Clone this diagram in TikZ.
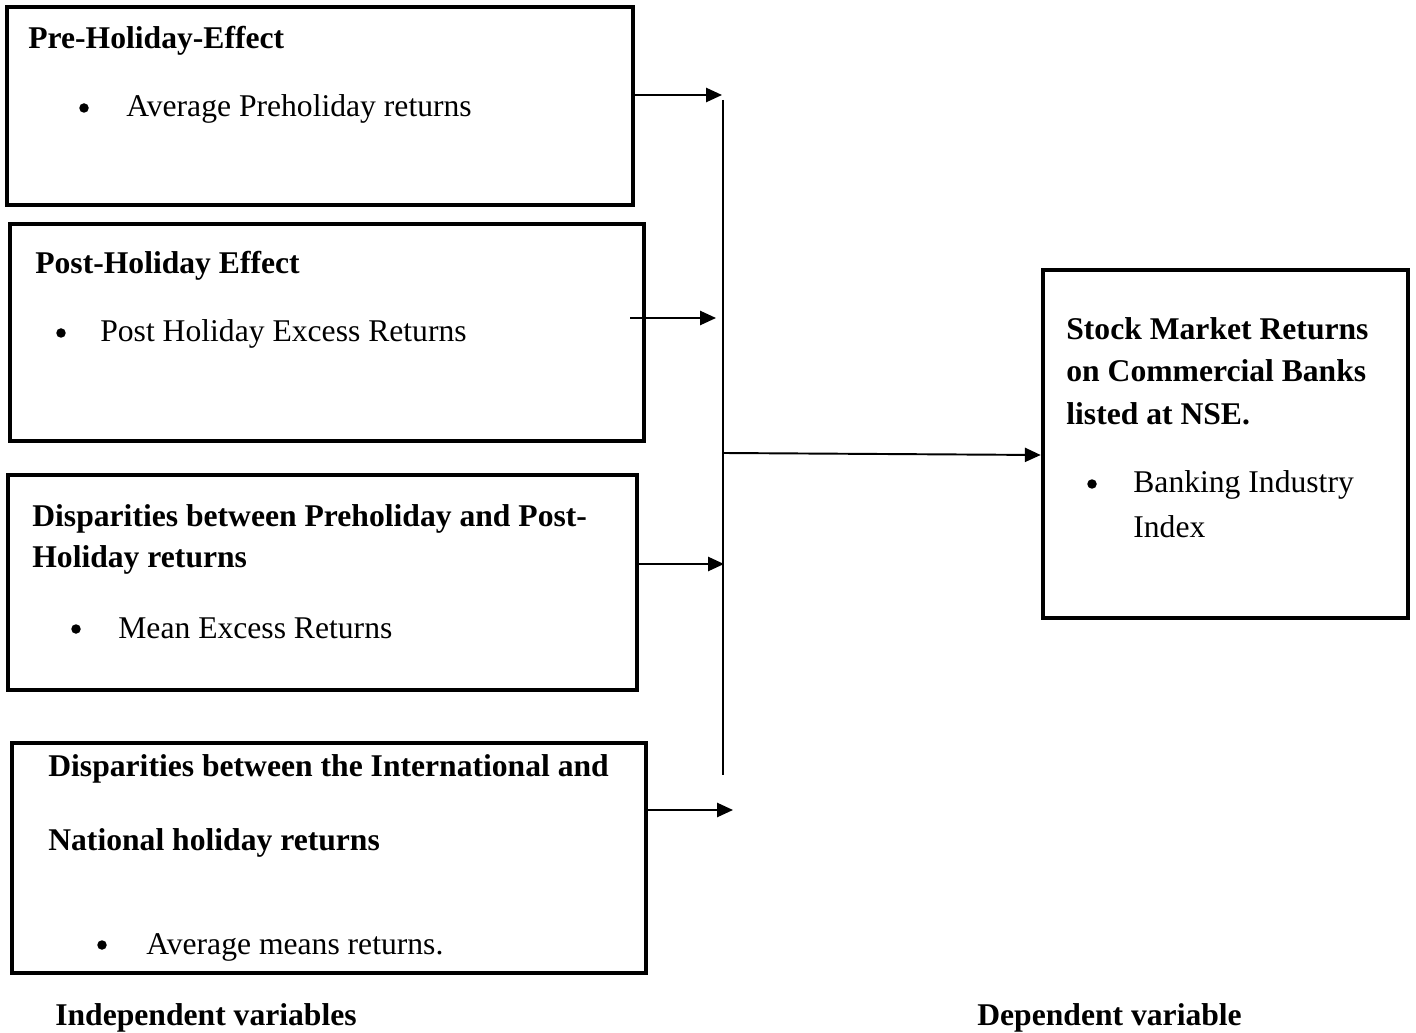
\documentclass[tikz,border=0pt]{standalone}
\usepackage{fontspec}
\setmainfont{Liberation Serif}
\usetikzlibrary{arrows.meta,fit}

\tikzset{
  box/.style={draw, line width=2.6pt, inner sep=0pt},
  txt/.style={anchor=base west, inner sep=0pt},
  head/.style={txt, font=\fontsize{18pt}{21pt}\selectfont\bfseries},
  dot/.style={circle, fill, inner sep=0pt, minimum size=0.19cm},
  link/.style={line width=1.1pt, -{Triangle[length=9pt,width=8pt]}},
}

\begin{document}
\begin{tikzpicture}[x=0.02cm, y=-0.02cm, font=\fontsize{18pt}{21pt}\selectfont]
\useasboundingbox (0,0) rectangle (1416,1033);

% independent variables
\node[box, fit={(7,7) (633,205)}] (pre) {};
\node[box, fit={(10,224) (644,441)}] (post) {};
\node[box, fit={(8,475) (637,690)}] (disp) {};
\node[box, fit={(12,743) (646,973)}] (intl) {};
% dependent variable
\node[box, fit={(1043,270) (1408,618)}] (stock) {};

\node[head] (h1) at (28,49) {Pre-Holiday-Effect};
\node[head] (h2) at (35,274) {Post-Holiday Effect};
\node[head] (h3a) at (32,526) {Disparities between Preholiday and Post-};
\node[head] (h3b) at (32,567) {Holiday returns};
\node[head] (h4a) at (48,776) {Disparities between the International and};
\node[head] (h4b) at (48,850) {National holiday returns};
\node[head] (h5a) at (1066,340) {Stock Market Returns};
\node[head] (h5b) at (1066,382) {on Commercial Banks};
\node[head] (h5c) at (1066,425) {listed at NSE.};

\foreach \n/\bx/\tx/\y/\t in {a/84/126/117/Average Preholiday returns,
    b/61/100/342/Post Holiday Excess Returns,
    c/76/118/638/Mean Excess Returns,
    d/102/146/954/Average means returns.,
    e/1092/1133/493/Banking Industry} {
  \node[dot] (dot\n) at (\bx,\y-9) {};
  \node[txt] (item\n) at (\tx,\y) {\t};
}
\node[txt] (iteme2) at (1133,537) {Index};

\node[head] (ind) at (55,1025) {Independent variables};
\node[head] (dep) at (977,1025) {Dependent variable};

% bus line
\coordinate (top) at (723,100);
\coordinate (bot) at (723,775);
\draw[line width=1.1pt] (top) -- (bot);

\coordinate (t1) at (722,95);
\coordinate (t2) at (716,318);
\coordinate (t3) at (724,564);
\coordinate (t4) at (733,810);
\coordinate (bm) at (724,453);

\draw[link] (pre.east |- t1) -- (t1);
\draw[link] ([xshift=-16*0.02cm]post.east |- t2) -- (t2);
\draw[link] (disp.east |- t3) -- (t3);
\draw[link] (intl.east |- t4) -- (t4);
\draw[link] (bm) -- (stock.west |- 0,455);
\end{tikzpicture}
\end{document}
